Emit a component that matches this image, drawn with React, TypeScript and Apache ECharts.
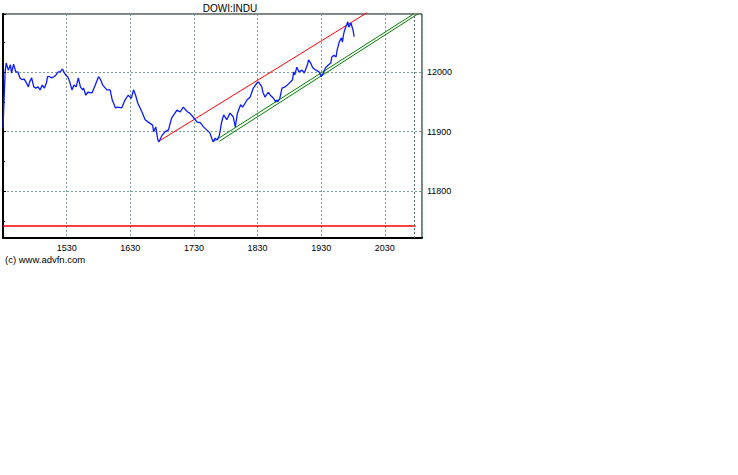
import React, { useEffect, useRef } from "react";
import * as echarts from "echarts";

// minutes since 14:30 (market open) and DOW index price
const minutes = [
  0, 2, 3, 5, 7, 8, 10, 12, 14, 16, 18, 20, 22, 24, 25, 27, 29, 31, 33, 35, 37, 39, 41, 42, 44, 46, 48, 50, 52, 54,
  56, 58, 59, 61, 63, 65, 67, 69, 71, 73, 75, 76, 78, 80, 84, 87, 90, 92, 94, 98, 101, 103, 106, 108, 112, 115, 118,
  121, 123, 125, 127, 131, 134, 137, 141, 142, 144, 146, 147, 150, 153, 156, 159, 161, 164, 167, 170, 174, 176, 179,
  183, 186, 189, 192, 195, 198, 200, 202, 204, 206, 208, 211, 214, 217, 219, 221, 224, 226, 230, 233, 236, 238, 240,
  241, 244, 245, 247, 250, 252, 255, 257, 258, 259, 261, 263, 266, 268, 273, 274, 275, 277, 279, 282, 284, 287, 288,
  290, 292, 295, 298, 300, 302, 304, 307, 309, 310, 312, 314, 315, 317, 319, 320, 321, 322, 324, 325, 326, 328, 330,
  331,
];
const prices = [
  11906, 12000, 12015, 12003, 12012, 11998, 12013, 12000, 12000, 11990, 11987, 11988, 11982, 11975, 11983, 11990,
  11975, 11973, 11975, 11970, 11978, 11973, 11982, 11992, 11992, 11990, 11992, 11995, 12000, 12000, 12005, 11998,
  11995, 11992, 11983, 11970, 11978, 11975, 11990, 11975, 11970, 11973, 11961, 11966, 11965, 11978, 11992, 11987,
  11978, 11970, 11970, 11953, 11940, 11941, 11940, 11953, 11961, 11956, 11970, 11961, 11948, 11933, 11920, 11916,
  11911, 11900, 11908, 11886, 11883, 11894, 11900, 11903, 11923, 11928, 11936, 11933, 11941, 11933, 11931, 11925,
  11916, 11915, 11908, 11903, 11898, 11883, 11889, 11886, 11894, 11915, 11928, 11920, 11931, 11925, 11908, 11931,
  11945, 11941, 11953, 11958, 11973, 11978, 11983, 11983, 11975, 11966, 11958, 11966, 11961, 11956, 11950, 11953,
  11950, 11956, 11973, 11975, 11978, 11987, 12000, 11995, 12008, 12000, 12003, 11998, 12012, 12020, 12015, 12007,
  12003, 12000, 11992, 11998, 12007, 12012, 12015, 12025, 12028, 12025, 12037, 12050, 12057, 12050, 12062, 12070,
  12079, 12084, 12075, 12082, 12070, 12059,
];

// drawn studies: [minute, price] end points
const supportLine = [
  [0, 11742],
  [389, 11742],
];
const redTrend = [
  [146, 11883],
  [343, 12099],
];
const greenTrendA = [
  [198, 11883],
  [387, 12097],
];
const greenTrendB = [
  [204, 11884],
  [391, 12097],
];
const closeMarker = 388;

const xMin = 0;
const xMax = 395;
const yMin = 11722;
const yMax = 12097;

const FONT = "Liberation Sans";
const GRID_COLOR = "#7f9c9c";

function clockLabel(v: number): string {
  const total = 14 * 60 + 30 + Math.round(v);
  const h = Math.floor(total / 60);
  const m = total % 60;
  return `${h}${m < 10 ? "0" : ""}${m}`;
}

export default function App() {
  const ref = useRef<HTMLDivElement>(null);
  useEffect(() => {
    if (!ref.current) return;
    const chart = echarts.init(ref.current, undefined, { renderer: "svg" });
    const priceData = minutes.map((m, i) => [m, prices[i]]);
    chart.setOption({
      animation: false,
      backgroundColor: "#ffffff",
      grid: {
        left: 3,
        top: 14,
        width: 419,
        height: 224,
        show: true,
        borderColor: "#000",
        borderWidth: 1,
        backgroundColor: "transparent",
      },
      graphic: [
        {
          type: "text",
          x: 230,
          y: 8,
          style: {
            text: "DOWI:INDU",
            fontFamily: FONT,
            fontSize: 10,
            fill: "#000",
            textAlign: "center",
            textVerticalAlign: "middle",
          },
        },
        {
          type: "text",
          x: 5,
          y: 259,
          style: {
            text: "(c) www.advfn.com",
            fontFamily: FONT,
            fontSize: 9.5,
            fill: "#000",
            textAlign: "left",
            textVerticalAlign: "middle",
          },
        },
      ],
      xAxis: {
        type: "value",
        min: xMin,
        max: xMax,
        interval: 60,
        axisLine: { show: true, onZero: false, lineStyle: { color: "#000", width: 2 } },
        axisTick: { show: false },
        axisLabel: {
          formatter: (v: number) => clockLabel(v),
          showMinLabel: false,
          showMaxLabel: false,
          fontFamily: FONT,
          fontSize: 9,
          color: "#000",
          margin: 5,
        },
        splitLine: { show: true, lineStyle: { color: GRID_COLOR, type: [2, 2], width: 1 } },
      },
      yAxis: [
        {
          type: "value",
          position: "right",
          min: yMin,
          max: yMax,
          axisLine: { show: true, lineStyle: { color: "#000", width: 1.5 } },
          axisTick: { show: true, inside: false, length: 3, lineStyle: { color: "#000" } },
          minorTick: { show: true, splitNumber: 2, length: 2, lineStyle: { color: "#000" } },
          axisLabel: {
            formatter: (v: number) => String(Math.round(v)),
            showMinLabel: false,
            showMaxLabel: false,
            fontFamily: FONT,
            fontSize: 9,
            color: "#000",
            margin: 5,
          },
          splitLine: { show: true, lineStyle: { color: GRID_COLOR, type: [2, 2], width: 1 } },
        },
        {
          type: "value",
          position: "left",
          min: yMin,
          max: yMax,
          axisLine: { show: true, lineStyle: { color: "#000", width: 2 } },
          axisTick: { show: true, inside: true, length: 2, lineStyle: { color: "#000" } },
          minorTick: { show: true, splitNumber: 2, length: 2, lineStyle: { color: "#000" } },
          axisLabel: { show: false },
          splitLine: { show: false },
        },
      ],
      series: [
        {
          type: "line",
          data: supportLine,
          showSymbol: false,
          lineStyle: { color: "#ff0000", width: 1.5 },
          silent: true,
        },
        {
          type: "line",
          data: redTrend,
          showSymbol: false,
          clip: false,
          lineStyle: { color: "#ff0000", width: 1 },
          silent: true,
        },
        {
          type: "line",
          data: greenTrendA,
          showSymbol: false,
          clip: false,
          lineStyle: { color: "#008000", width: 1 },
          silent: true,
        },
        {
          type: "line",
          data: greenTrendB,
          showSymbol: false,
          clip: false,
          lineStyle: { color: "#008000", width: 1 },
          silent: true,
        },
        {
          type: "line",
          data: priceData,
          showSymbol: false,
          lineStyle: { color: "#0a1cff", width: 1.3 },
          silent: true,
          markLine: {
            silent: true,
            symbol: "none",
            label: { show: false },
            lineStyle: { color: "#5a7070", type: [2, 2], width: 1 },
            data: [{ xAxis: closeMarker }],
          },
        },
      ],
    });
    return () => chart.dispose();
  }, []);
  return (
    <div
      ref={ref}
      style={{ position: "fixed", left: 0, top: 0, width: 738, height: 475, background: "#fff" }}
    />
  );
}
